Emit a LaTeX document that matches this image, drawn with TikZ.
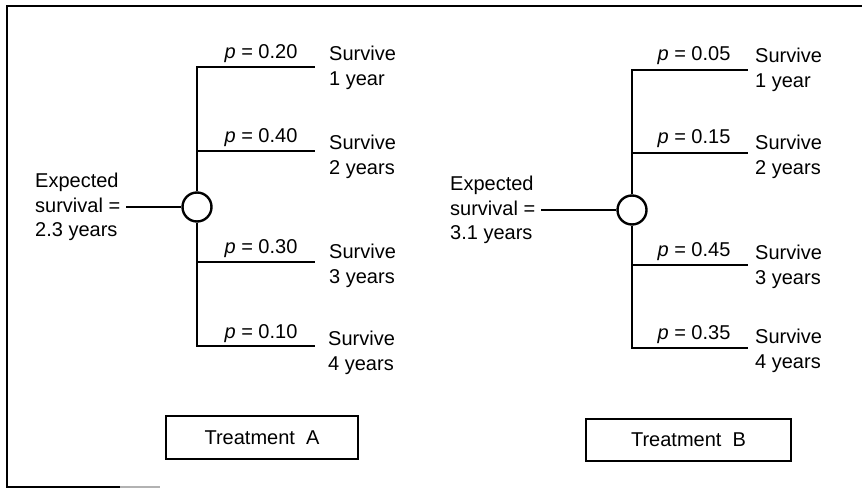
\documentclass[tikz,border=0pt]{standalone}
\usepackage{fontspec}
\setmainfont{Liberation Sans}
\begin{document}
\begin{tikzpicture}[x=1pt,y=-1pt,
  txt/.style={font=\fontsize{20}{24.5}\selectfont, inner sep=0pt, align=left},
  plab/.style={font=\fontsize{20}{24}\selectfont, inner sep=0pt, anchor=base},
  chance/.style={circle, draw, fill=white, line width=2.4pt, minimum size=29pt, inner sep=0pt},
  branch/.style={line width=1.7pt},
  tbox/.style={draw, line width=1.8pt, font=\fontsize{20}{24}\selectfont, inner sep=0pt},
  frame/.style={line width=1.4pt}]
\useasboundingbox (0,0) rectangle (862,489);
% frame
\draw[frame] (862,6) -- (7,6) -- (7,487) -- (120,487);
\draw[frame, gray!60] (120,487) -- (160,487);

% ---------- Treatment A ----------
\node[chance] (cA) at (197,207) {};
\coordinate (eA1) at (315,67);
\coordinate (eA2) at (315,151);
\coordinate (eA3) at (315,262);
\coordinate (eA4) at (315,346);
\draw[branch] (cA.north) |- (eA1);
\draw[branch] (cA.north) |- (eA2);
\draw[branch] (cA.south) |- (eA3);
\draw[branch] (cA.south) |- (eA4);
\node[plab] (pA1) at (261,59) {\textit{p} = 0.20};
\node[plab] (pA2) at (261,143) {\textit{p} = 0.40};
\node[plab] (pA3) at (261,254) {\textit{p} = 0.30};
\node[plab] (pA4) at (261,338) {\textit{p} = 0.10};
\node[txt, anchor=west] (sA1) at (329,68) {Survive\\1 year};
\node[txt, anchor=west] (sA2) at (329,157) {Survive\\2 years};
\node[txt, anchor=west] (sA3) at (329,266) {Survive\\3 years};
\node[txt, anchor=west] (sA4) at (328,353) {Survive\\4 years};
\node[txt, anchor=west] (xA) at (35,207) {Expected\\survival =\\2.3 years};
\draw[branch] ([xshift=6pt]xA.east) -- (cA.west);
\node[tbox, minimum width=192pt, minimum height=43pt] (tA) at (262,437.5) {Treatment\ \ A};

% ---------- Treatment B ----------
\node[chance] (cB) at (632,210) {};
\coordinate (eB1) at (748,70);
\coordinate (eB2) at (748,153);
\coordinate (eB3) at (748,265);
\coordinate (eB4) at (748,348);
\draw[branch] (cB.north) |- (eB1);
\draw[branch] (cB.north) |- (eB2);
\draw[branch] (cB.south) |- (eB3);
\draw[branch] (cB.south) |- (eB4);
\node[plab] (pB1) at (694,61) {\textit{p} = 0.05};
\node[plab] (pB2) at (694,144) {\textit{p} = 0.15};
\node[plab] (pB3) at (694,256) {\textit{p} = 0.45};
\node[plab] (pB4) at (694,339) {\textit{p} = 0.35};
\node[txt, anchor=west] (sB1) at (755,70) {Survive\\1 year};
\node[txt, anchor=west] (sB2) at (755,157) {Survive\\2 years};
\node[txt, anchor=west] (sB3) at (755,267) {Survive\\3 years};
\node[txt, anchor=west] (sB4) at (755,351) {Survive\\4 years};
\node[txt, anchor=west] (xB) at (450,210) {Expected\\survival =\\3.1 years};
\draw[branch] ([xshift=6pt]xB.east) -- (cB.west);
\node[tbox, minimum width=205pt, minimum height=42pt] (tB) at (688.5,440) {Treatment\ \ B};
\end{tikzpicture}
\end{document}
